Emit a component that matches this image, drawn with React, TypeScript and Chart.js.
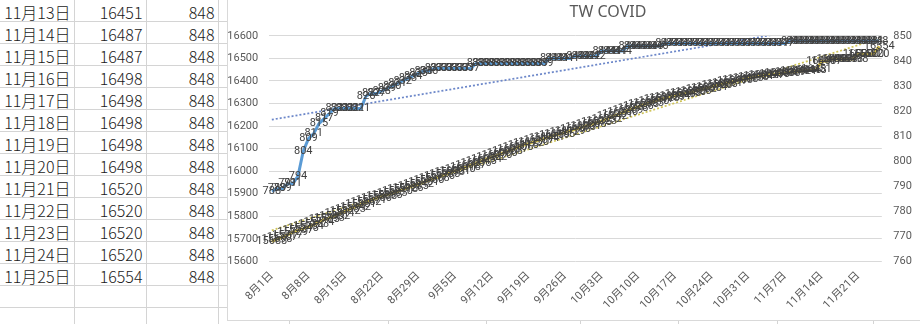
import React, { useEffect, useRef } from 'react';
import { Chart, registerables } from 'chart.js';

Chart.register(...registerables);

// ---------- data ----------
const dateLabels = [
  '8月1日','8月2日','8月3日','8月4日','8月5日','8月6日','8月7日','8月8日','8月9日','8月10日',
  '8月11日','8月12日','8月13日','8月14日','8月15日','8月16日','8月17日','8月18日','8月19日','8月20日',
  '8月21日','8月22日','8月23日','8月24日','8月25日','8月26日','8月27日','8月28日','8月29日','8月30日','8月31日',
  '9月1日','9月2日','9月3日','9月4日','9月5日','9月6日','9月7日','9月8日','9月9日','9月10日',
  '9月11日','9月12日','9月13日','9月14日','9月15日','9月16日','9月17日','9月18日','9月19日','9月20日',
  '9月21日','9月22日','9月23日','9月24日','9月25日','9月26日','9月27日','9月28日','9月29日','9月30日',
  '10月1日','10月2日','10月3日','10月4日','10月5日','10月6日','10月7日','10月8日','10月9日','10月10日',
  '10月11日','10月12日','10月13日','10月14日','10月15日','10月16日','10月17日','10月18日','10月19日','10月20日',
  '10月21日','10月22日','10月23日','10月24日','10月25日','10月26日','10月27日','10月28日','10月29日','10月30日','10月31日',
  '11月1日','11月2日','11月3日','11月4日','11月5日','11月6日','11月7日','11月8日','11月9日','11月10日',
  '11月11日','11月12日','11月13日','11月14日','11月15日','11月16日','11月17日','11月18日','11月19日','11月20日',
  '11月21日','11月22日','11月23日','11月24日','11月25日',
];

// cumulative confirmed cases (left axis)
const casesTotal = [
  15688, 15698, 15707, 15717, 15729, 15737, 15745, 15754, 15763, 15774,
  15785, 15793, 15802, 15811, 15822, 15833, 15842, 15851, 15862, 15871,
  15880, 15888, 15895, 15903, 15910, 15918, 15926, 15935, 15942, 15951, 15960,
  15968, 15976, 15985, 15993, 16001, 16010, 16018, 16027, 16036, 16045,
  16054, 16062, 16070, 16080, 16088, 16097, 16106, 16115, 16122, 16130,
  16137, 16144, 16151, 16159, 16165, 16172, 16179, 16186, 16193, 16201,
  16208, 16215, 16223, 16232, 16242, 16251, 16260, 16269, 16278, 16286,
  16295, 16303, 16310, 16317, 16323, 16329, 16334, 16340, 16345, 16350,
  16356, 16362, 16368, 16374, 16380, 16386, 16391, 16397, 16403, 16408, 16413,
  16418, 16421, 16424, 16427, 16430, 16433, 16436, 16439, 16442, 16444,
  16446, 16448, 16451, 16487, 16487, 16498, 16498, 16498, 16498, 16498,
  16520, 16520, 16520, 16520, 16554,
];

// cumulative deaths (right axis)
const deathsTotal = [
  788, 789, 789, 791, 791, 794, 804, 809, 811, 815,
  817, 819, 821, 821, 821, 821, 821, 821, 826, 827,
  827, 828, 829, 830, 831, 832, 833, 834, 835, 836, 836,
  837, 837, 837, 837, 837, 837, 837, 837, 839, 839,
  839, 839, 839, 839, 839, 839, 839, 839, 839, 839,
  839, 839, 841, 841, 841, 841, 841, 842, 842, 842,
  842, 842, 844, 844, 844, 844, 844, 846, 846, 846,
  846, 846, 846, 846, 847, 847, 847, 847, 847, 847,
  847, 847, 847, 847, 847, 847, 847, 847, 847, 847, 847,
  847, 847, 847, 847, 847, 847, 847, 848, 848, 848,
  848, 848, 848, 848, 848, 848, 848, 848, 848, 848,
  848, 848, 848, 848, 848,
];

const leftAxisRange = [15600, 16600];
const leftAxisStep = 100;
const rightAxisRange = [760, 850];
const rightAxisStep = 10;
const chartTitle = 'TW COVID';
const labelEvery = 7;
const sheetFirstDate = '11月13日';

// ---------- helpers ----------
function linearTrend(values: number[]): number[] {
  const n = values.length;
  let sx = 0, sy = 0, sxx = 0, sxy = 0;
  values.forEach((v, i) => { sx += i; sy += v; sxx += i * i; sxy += i * v; });
  const slope = (n * sxy - sx * sy) / (n * sxx - sx * sx);
  const intercept = (sy - slope * sx) / n;
  return values.map((_, i) => intercept + slope * i);
}

const AXIS_FONT = { family: 'Roboto, "Noto Sans CJK TC", sans-serif', size: 11 };

const valueLabels = {
  id: 'valueLabels',
  afterDatasetsDraw(chart: any) {
    const ctx = chart.ctx;
    ctx.save();
    ctx.font = '11px Roboto, "Noto Sans CJK TC", sans-serif';
    ctx.fillStyle = '#404040';
    ctx.textAlign = 'center';
    ctx.textBaseline = 'middle';
    chart.data.datasets.forEach((ds: any, i: number) => {
      if (!ds.showValues) return;
      const meta = chart.getDatasetMeta(i);
      meta.data.forEach((pt: any, j: number) => {
        ctx.fillText(String(ds.data[j]), pt.x, pt.y);
      });
    });
    ctx.restore();
  },
};

const SHEET_COLS = [
  { left: 0, right: 74 },
  { left: 75, right: 146 },
  { left: 147, right: 218 },
];
const SHEET_VLINES = [74, 146, 218, 289, 388, 486, 580, 678, 777, 873];
const ROW_PITCH = 22;
const FIRST_ROW_LINE = 21;

export default function App() {
  const ref = useRef<HTMLCanvasElement>(null);

  useEffect(() => {
    document.body.style.margin = '0';
    const chart = new Chart(ref.current as HTMLCanvasElement, {
      type: 'line',
      data: {
        labels: dateLabels,
        datasets: [
          {
            label: '死亡',
            data: deathsTotal,
            yAxisID: 'y1',
            borderColor: '#5B9BD5',
            borderWidth: 3,
            pointRadius: 0,
            tension: 0,
            showValues: true,
          } as any,
          {
            label: '確診',
            data: casesTotal,
            yAxisID: 'y',
            borderColor: '#CDB94A',
            borderWidth: 3,
            pointRadius: 0,
            tension: 0,
            showValues: true,
          } as any,
          {
            label: '死亡 趨勢',
            data: linearTrend(deathsTotal),
            yAxisID: 'y1',
            borderColor: '#6C87C9',
            borderWidth: 1.75,
            borderDash: [2, 2],
            pointRadius: 0,
          },
          {
            label: '確診 趨勢',
            data: linearTrend(casesTotal),
            yAxisID: 'y',
            borderColor: '#CFC45A',
            borderWidth: 1.75,
            borderDash: [2, 2],
            pointRadius: 0,
          },
        ],
      },
      options: {
        responsive: false,
        animation: false,
        devicePixelRatio: 1,
        layout: { padding: 0 },
        plugins: {
          legend: { display: false },
          tooltip: { enabled: false },
          title: {
            display: true,
            text: chartTitle,
            color: '#595959',
            font: { family: '"Noto Sans", sans-serif', size: 16, weight: 'normal' },
            padding: { top: 3, bottom: 13.7 },
          },
        },
        scales: {
          x: {
            offset: true,
            grid: { display: false, drawTicks: false },
            border: { display: false },
            ticks: {
              autoSkip: false,
              minRotation: 45,
              maxRotation: 45,
              padding: 8,
              color: '#595959',
              font: AXIS_FONT,
              callback: (_v: any, i: number) => (i % labelEvery === 0 ? dateLabels[i] : ''),
            },
            afterFit: (s: any) => { s.height = 58.7; },
          },
          y: {
            position: 'left',
            min: leftAxisRange[0],
            max: leftAxisRange[1],
            grid: { color: '#D9D9D9', drawTicks: false },
            border: { display: false },
            ticks: {
              stepSize: leftAxisStep,
              padding: 11,
              color: '#595959',
              font: AXIS_FONT,
              callback: (v: any) => String(v),
            },
            afterFit: (s: any) => { s.width = 41.2; },
          },
          y1: {
            position: 'right',
            min: rightAxisRange[0],
            max: rightAxisRange[1],
            grid: { display: false, drawTicks: false },
            border: { display: false },
            ticks: {
              stepSize: rightAxisStep,
              padding: 11.5,
              color: '#595959',
              font: AXIS_FONT,
              callback: (v: any) => String(v),
            },
            afterFit: (s: any) => { s.width = 106.2; },
          },
        },
      } as any,
      plugins: [valueLabels],
    });
    return () => chart.destroy();
  }, []);

  const start = dateLabels.indexOf(sheetFirstDate);
  const sheetRows = dateLabels.slice(start).map((d, k) => [d, String(casesTotal[start + k]), String(deathsTotal[start + k])]);
  const hLines = Array.from({ length: 14 }, (_, k) => FIRST_ROW_LINE + ROW_PITCH * k);

  return (
    <div style={{ position: 'relative', width: 920, height: 324, overflow: 'hidden', background: '#fff' }}>
      {SHEET_VLINES.map((x) => (
        <div key={'v' + x} style={{ position: 'absolute', left: x, top: 0, width: 1, height: 324, background: '#D4D4D4' }} />
      ))}
      {hLines.map((y) => (
        <div key={'h' + y} style={{ position: 'absolute', left: 0, top: y, width: 228, height: 1, background: '#D4D4D4' }} />
      ))}
      {sheetRows.map((row, k) =>
        row.map((txt, c) => (
          <div
            key={k + '-' + c}
            style={{
              position: 'absolute',
              left: SHEET_COLS[c].left,
              width: SHEET_COLS[c].right - SHEET_COLS[c].left - 3.5,
              top: 13.3 + ROW_PITCH * k - 11,
              height: 20,
              lineHeight: '20px',
              textAlign: 'right',
              fontSize: 16,
              fontWeight: 300,
              fontFamily: '"Noto Sans CJK TC", sans-serif',
              color: '#1a1a1a',
              whiteSpace: 'nowrap',
            }}
          >
            {txt}
          </div>
        ))
      )}
      <div
        style={{
          position: 'absolute',
          left: 227,
          top: 0,
          width: 693,
          height: 321,
          boxSizing: 'border-box',
          borderLeft: '1px solid #D9D9D9',
          borderBottom: '1px solid #D9D9D9',
          overflow: 'hidden',
          background: '#fff',
        }}
      >
        <canvas ref={ref} width={760} height={320} style={{ display: 'block', width: 760, height: 320 }} />
      </div>
    </div>
  );
}
